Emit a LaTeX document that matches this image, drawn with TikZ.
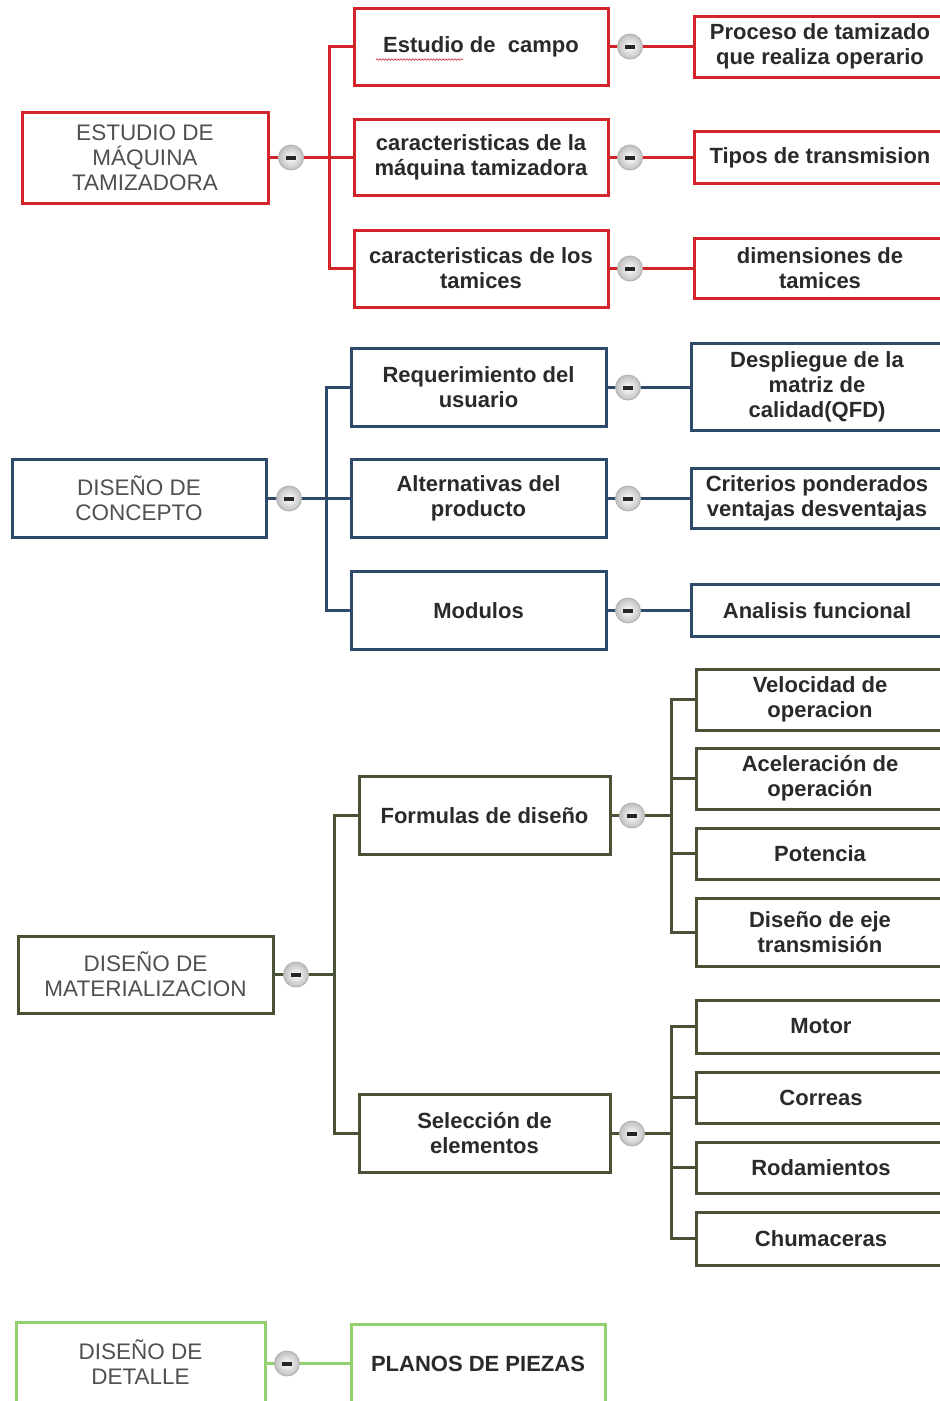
\documentclass[tikz,border=0pt]{standalone}
\usepackage{fontspec}
\setmainfont{Liberation Sans}
\usetikzlibrary{decorations.pathmorphing}
\definecolor{redc}{HTML}{D3242C}
\definecolor{bluec}{HTML}{2E4A6B}
\definecolor{olivec}{HTML}{4A5236}
\definecolor{greenc}{HTML}{92CF6E}
\definecolor{textc}{HTML}{2A2A2A}
\definecolor{rootc}{HTML}{505050}
\newcommand{\minusbar}{\textcolor{black!85}{\rule[-2pt]{10pt}{4pt}}}
\begin{document}
\begin{tikzpicture}[x=1pt,y=-1pt,
  box/.style={draw, rectangle, line width=3pt, inner sep=0pt, align=center,
    fill=white, text=textc, font=\fontsize{22}{25}\selectfont\bfseries},
  rootbox/.style={box, text=rootc, font=\fontsize{22.5}{25}\selectfont},
  minus/.style={circle, draw=gray!60, line width=0.9pt, inner color=white,
    outer color=gray!50, minimum size=25pt, inner sep=0pt},
  link/.style={line width=3pt},
]
\useasboundingbox (0,0) rectangle (940,1401);
\clip (0,0) rectangle (940,1401);
\fill[white] (0,0) rectangle (940,1401);

% ---------- Estudio de máquina tamizadora ----------
\begin{scope}[every node/.append style={draw=redc}]
\node[rootbox, minimum width=246pt, minimum height=91pt] (r1) at (145,157.5) {ESTUDIO DE\\MÁQUINA\\TAMIZADORA};
\node[box, minimum width=254pt, minimum height=77pt] (c11) at (481,46.5) {Estudio de\ \ campo};
\node[box, minimum width=254pt, minimum height=76pt] (c12) at (481,157.5) {caracteristicas de la\\máquina tamizadora};
\node[box, minimum width=254pt, minimum height=77pt] (c13) at (481,268.5) {caracteristicas de los\\tamices};
\node[box, minimum width=252pt, minimum height=61pt] (g11) at (820,46.5) {Proceso de tamizado\\que realiza operario};
\node[box, minimum width=252pt, minimum height=52pt] (g12) at (820,157.5) {Tipos de transmision};
\node[box, minimum width=252pt, minimum height=60pt] (g13) at (820,268.5) {dimensiones de\\tamices};
\end{scope}
\coordinate (b1) at (329.5,157.5);
\begin{scope}[link, redc]
\draw (r1.east) -- (b1);
\draw (c11.west) -| (b1);
\draw (c12.west) -- (b1);
\draw (c13.west) -| (b1);
\draw (c11.east) -- (g11.west);
\draw (c12.east) -- (g12.west);
\draw (c13.east) -- (g13.west);
\end{scope}
\node[minus] (m1) at (291,157.5) {\minusbar};
\node[minus] (m11) at (630,46.5) {\minusbar};
\node[minus] (m12) at (630,157.5) {\minusbar};
\node[minus] (m13) at (630,268.5) {\minusbar};
\draw[redc!85, line width=0.7pt, decorate, decoration={snake, amplitude=0.8pt, segment length=3pt}]
  (376,59.5) -- (463,59.5);

% ---------- Diseño de concepto ----------
\begin{scope}[every node/.append style={draw=bluec}]
\node[rootbox, minimum width=254pt, minimum height=78pt] (r2) at (139,498.5) {DISEÑO DE\\CONCEPTO};
\node[box, minimum width=255pt, minimum height=78pt] (c21) at (478.5,387.5) {Requerimiento del\\usuario};
\node[box, minimum width=255pt, minimum height=78pt] (c22) at (478.5,498.5) {Alternativas del\\producto};
\node[box, minimum width=255pt, minimum height=78pt] (c23) at (478.5,610.5) {Modulos};
\node[box, minimum width=252pt, minimum height=87pt] (g21) at (817,386.5) {Despliegue de la\\matriz de\\calidad(QFD)};
\node[box, minimum width=252pt, minimum height=60pt] (g22) at (817,498.5) {Criterios ponderados\\ventajas desventajas};
\node[box, minimum width=252pt, minimum height=52pt] (g23) at (817,610.5) {Analisis funcional};
\end{scope}
\coordinate (b2) at (326.5,498.5);
\begin{scope}[link, bluec]
\draw (r2.east) -- (b2);
\draw (c21.west) -| (b2);
\draw (c22.west) -- (b2);
\draw (c23.west) -| (b2);
\draw (c21.east) -- (g21.west |- c21.east);
\draw (c22.east) -- (g22.west |- c22.east);
\draw (c23.east) -- (g23.west |- c23.east);
\end{scope}
\node[minus] (m2) at (289,498.5) {\minusbar};
\node[minus] (m21) at (628,387.5) {\minusbar};
\node[minus] (m22) at (628,498.5) {\minusbar};
\node[minus] (m23) at (628,610.5) {\minusbar};

% ---------- Diseño de materialización ----------
\begin{scope}[every node/.append style={draw=olivec}]
\node[rootbox, minimum width=255pt, minimum height=77pt] (r3) at (145.5,974.5) {DISEÑO DE\\MATERIALIZACION};
\node[box, minimum width=251pt, minimum height=78pt] (c31) at (484.5,815.5) {Formulas de diseño};
\node[box, minimum width=251pt, minimum height=78pt] (c32) at (484.5,1133.5) {Selección de\\elementos};
\node[box, minimum width=248pt, minimum height=61pt] (g311) at (820,699.5) {Velocidad de\\operacion};
\node[box, minimum width=248pt, minimum height=61pt] (g312) at (820,778.5) {Aceleración de\\operación};
\node[box, minimum width=248pt, minimum height=51pt] (g313) at (820,853.5) {Potencia};
\node[box, minimum width=248pt, minimum height=68pt] (g314) at (820,932.5) {Diseño de eje\\transmisión};
\node[box, minimum width=250pt, minimum height=53pt] (g321) at (821,1026.5) {Motor};
\node[box, minimum width=250pt, minimum height=51pt] (g322) at (821,1097.5) {Correas};
\node[box, minimum width=250pt, minimum height=51pt] (g323) at (821,1167.5) {Rodamientos};
\node[box, minimum width=250pt, minimum height=53pt] (g324) at (821,1238.5) {Chumaceras};
\end{scope}
\coordinate (b3) at (334.5,974.5);
\coordinate (b31) at (671.5,815.5);
\coordinate (b32) at (671.5,1133.5);
\begin{scope}[link, olivec]
\draw (r3.east) -- (b3);
\draw (c31.west) -| (b3);
\draw (c32.west) -| (b3);
\draw (c31.east) -- (b31);
\draw (c32.east) -- (b32);
\draw (g311.west) -| (b31);
\draw (g312.west) -| (b31);
\draw (g313.west) -| (b31);
\draw (g314.west) -| (b31);
\draw (g321.west) -| (b32);
\draw (g322.west) -| (b32);
\draw (g323.west) -| (b32);
\draw (g324.west) -| (b32);
\end{scope}
\node[minus] (m3) at (296,974.5) {\minusbar};
\node[minus] (m31) at (632,815.5) {\minusbar};
\node[minus] (m32) at (632,1133.5) {\minusbar};

% ---------- Diseño de detalle ----------
\begin{scope}[every node/.append style={draw=greenc}]
\node[rootbox, minimum width=249pt, minimum height=81pt] (r4) at (140.5,1362.5) {DISEÑO DE\\DETALLE};
\node[box, minimum width=254pt, minimum height=78pt] (c41) at (478,1363.5) {PLANOS DE PIEZAS};
\end{scope}
\begin{scope}[link, greenc]
\draw (r4.east |- c41.west) -- (c41.west);
\end{scope}
\node[minus] (m4) at (287,1363.5) {\minusbar};
\end{tikzpicture}
\end{document}
